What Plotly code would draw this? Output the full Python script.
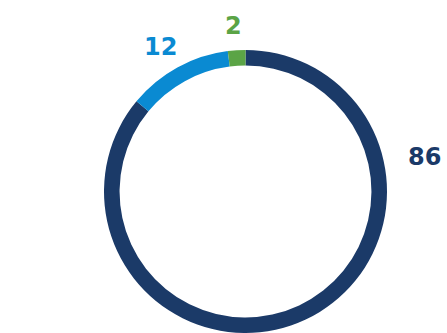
import plotly.graph_objects as go

labels = ["A", "B", "C"]
values = [86, 12, 2]
colors = ["#1B3A68", "#0A8AD2", "#5BA446"]
label_pos = [(424, 157), (160, 47), (233, 26)]  # pixel centers of value labels

W, H = 447, 333

fig = go.Figure(go.Pie(
    labels=labels, values=values, sort=False, direction="clockwise", rotation=0,
    hole=0.89, marker=dict(colors=colors, line=dict(width=0)),
    textinfo="none", hoverinfo="none", showlegend=False,
    domain=dict(x=[104/W, 387/W], y=[0, 283/H]),
))

for v, c, (px, py) in zip(values, colors, label_pos):
    fig.add_annotation(x=px / W, y=1 - py / H, xref="paper", yref="paper",
                       text=f"<b>{v}</b>", showarrow=False,
                       font=dict(family="DejaVu Sans", size=24, color=c),
                       xanchor="center", yanchor="middle")

fig.update_layout(width=W, height=H, margin=dict(l=0, r=0, t=0, b=0),
                  paper_bgcolor="white", plot_bgcolor="white")
fig.write_html("out.html", config={"displayModeBar": False},
               post_script="document.body.style.margin='0';document.body.style.overflow='hidden';")
